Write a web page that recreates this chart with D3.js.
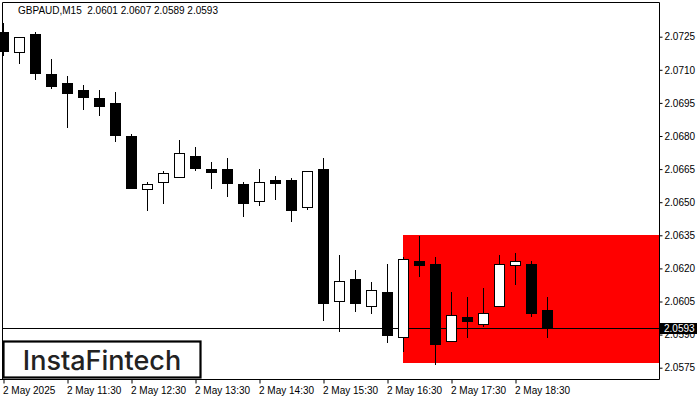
<!DOCTYPE html>
<html><head><meta charset="utf-8">
<script src="https://cdn.jsdelivr.net/npm/d3@7"></script>
<style>body{margin:0;background:#fff}svg{display:block}</style>
</head><body>
<svg id="c" width="700" height="400"></svg>
<script>
// ---- data ----
const title = "GBPAUD,M15  2.0601 2.0607 2.0589 2.0593";
const openV  = [2.07270,2.07179,2.07262,2.07081,2.07040,2.07010,2.06972,2.06950,2.06800,2.06558,2.06590,2.06616,2.06710,2.06649,2.06649,2.06583,2.06507,2.06601,2.06601,2.06480,2.06650,2.06051,2.06151,2.06030,2.06092,2.05888,2.06232,2.06220,2.05871,2.05980,2.05950,2.06028,2.06214,2.06220,2.06010];
const highV  = [2.07313,2.07247,2.07271,2.07149,2.07072,2.07031,2.07010,2.07000,2.06809,2.06592,2.06640,2.06782,2.06749,2.06682,2.06699,2.06592,2.06650,2.06619,2.06610,2.06640,2.06699,2.06261,2.06193,2.06140,2.06222,2.06253,2.06349,2.06253,2.06093,2.06070,2.06111,2.06261,2.06270,2.06232,2.06070];
const lowV   = [2.07167,2.07129,2.07058,2.07018,2.06839,2.06921,2.06895,2.06779,2.06566,2.06466,2.06498,2.06616,2.06646,2.06566,2.06530,2.06438,2.06489,2.06516,2.06416,2.06468,2.05966,2.05918,2.06007,2.05999,2.05868,2.05827,2.06164,2.05768,2.05871,2.05888,2.05941,2.06028,2.06131,2.05986,2.05890];
const closeV = [2.07187,2.07247,2.07087,2.07028,2.06995,2.06977,2.06937,2.06806,2.06566,2.06583,2.06631,2.06722,2.06656,2.06638,2.06588,2.06498,2.06592,2.06588,2.06466,2.06640,2.06042,2.06142,2.06042,2.06101,2.05899,2.06241,2.06214,2.05859,2.05987,2.05960,2.05999,2.06220,2.06232,2.05999,2.05930];
const xTickIndex  = [0,4,8,12,16,20,24,28,32];
const xTickLabels = ["2 May 2025","2 May 11:30","2 May 12:30","2 May 13:30","2 May 14:30","2 May 15:30","2 May 16:30","2 May 17:30","2 May 18:30"];
const yTicks = [2.0575,2.0590,2.0605,2.0620,2.0635,2.0650,2.0665,2.0680,2.0695,2.0710,2.0725];
const currentPrice = 2.0593;
const zoneStartIndex = 25, zoneTop = 2.0635, zoneBottom = 2.0577;
const logoText = "InstaFintech";

// ---- layout ----
const svg = d3.select("#c");
const plotL = 2.5, plotR = 659.5, plotT = 2.5, plotB = 379.5;
const x = d3.scaleLinear().domain([0, 41]).range([3.5, 3.5 + 16*41]);
const y = d3.scaleLinear().domain([2.0575, 2.0725]).range([367.7, 36.7]);
const font = "'Liberation Sans', Arial, sans-serif";
const fs = "10px";

svg.append("rect").attr("width",700).attr("height",400).attr("fill","#fff");

// zone
svg.append("rect")
  .attr("x", x(zoneStartIndex)-0.5).attr("y", Math.round(y(zoneTop)))
  .attr("width", plotR - x(zoneStartIndex) + 0.5)
  .attr("height", Math.round(y(zoneBottom)) - Math.round(y(zoneTop)))
  .attr("fill", "#ff0000");

// current price line
const cpY = Math.round(y(currentPrice)) + 0.5;
svg.append("line").attr("x1", plotL).attr("x2", plotR).attr("y1", cpY).attr("y2", cpY)
  .attr("stroke","#000").attr("stroke-width",1);

// candles
const data = openV.map((o,i)=>({i,o,h:highV[i],l:lowV[i],c:closeV[i]}));
const g = svg.append("g");
data.forEach(d=>{
  const cx = x(d.i);
  g.append("line").attr("x1",cx).attr("x2",cx)
    .attr("y1",Math.round(y(d.h))).attr("y2",Math.round(y(d.l))+1)
    .attr("stroke","#000").attr("stroke-width",1);
  const top = Math.round(y(Math.max(d.o,d.c)));
  const bot = Math.round(y(Math.min(d.o,d.c)));
  if (d.c > d.o) {
    g.append("rect").attr("x",cx-5).attr("y",top+0.5).attr("width",10).attr("height",Math.max(1,bot-top))
      .attr("fill","#fff").attr("stroke","#000").attr("stroke-width",1);
  } else {
    g.append("rect").attr("x",cx-5.5).attr("y",top).attr("width",11).attr("height",Math.max(2,bot-top+1))
      .attr("fill","#000");
  }
});

// frame
svg.append("path")
  .attr("d",`M${plotL},${plotB}V${plotT}H${plotR}V${plotB}`)
  .attr("fill","none").attr("stroke","#000").attr("stroke-width",1);
svg.append("line").attr("x1",0).attr("x2",plotR).attr("y1",plotB).attr("y2",plotB)
  .attr("stroke","#000").attr("stroke-width",1);

// y axis
const yAxis = d3.axisRight(y).tickValues(yTicks).tickSize(3).tickPadding(2)
  .tickFormat(d3.format(".4f"));
const ya = svg.append("g").attr("transform",`translate(${plotR},0)`).call(yAxis);
ya.select(".domain").remove();
ya.selectAll(".tick line").attr("stroke","#000");
ya.selectAll(".tick text").attr("font-family",font).attr("font-size",fs).attr("fill","#000");

// x axis
const xAxis = d3.axisBottom(x).tickValues(xTickIndex).tickSize(4).tickPadding(2)
  .tickFormat((d,k)=>xTickLabels[k]);
const xa = svg.append("g").attr("transform",`translate(0,${plotB})`).call(xAxis);
xa.select(".domain").remove();
xa.selectAll(".tick line").attr("stroke","#000");
xa.selectAll(".tick text").attr("font-family",font).attr("font-size",fs).attr("fill","#000")
  .attr("text-anchor","start").attr("x",-1).attr("dy","0.85em");

// current price label
const lbl = svg.append("g");
lbl.append("rect").attr("x",660).attr("y",Math.round(y(currentPrice))-5).attr("width",37).attr("height",11).attr("fill","#000");
lbl.append("text").attr("x",664).attr("y",Math.round(y(currentPrice))+4)
  .attr("font-family",font).attr("font-size",fs).attr("fill","#fff").text(d3.format(".4f")(currentPrice));

// title
svg.append("text").attr("x",18).attr("y",14).attr("font-family",font).attr("font-size",fs)
  .attr("fill","#000").attr("xml:space","preserve").style("white-space","pre").text(title);

// logo
svg.append("rect").attr("x",3.5).attr("y",341.5).attr("width",197).attr("height",36)
  .attr("fill","#fff").attr("stroke","#000").attr("stroke-width",2.2);
svg.append("text").attr("x",102).attr("y",369.5).attr("text-anchor","middle")
  .attr("font-family","Inter, 'Open Sans', sans-serif").attr("font-weight",500).attr("font-size","27px")
  .attr("fill","#222").text(logoText);
</script>
</body></html>
